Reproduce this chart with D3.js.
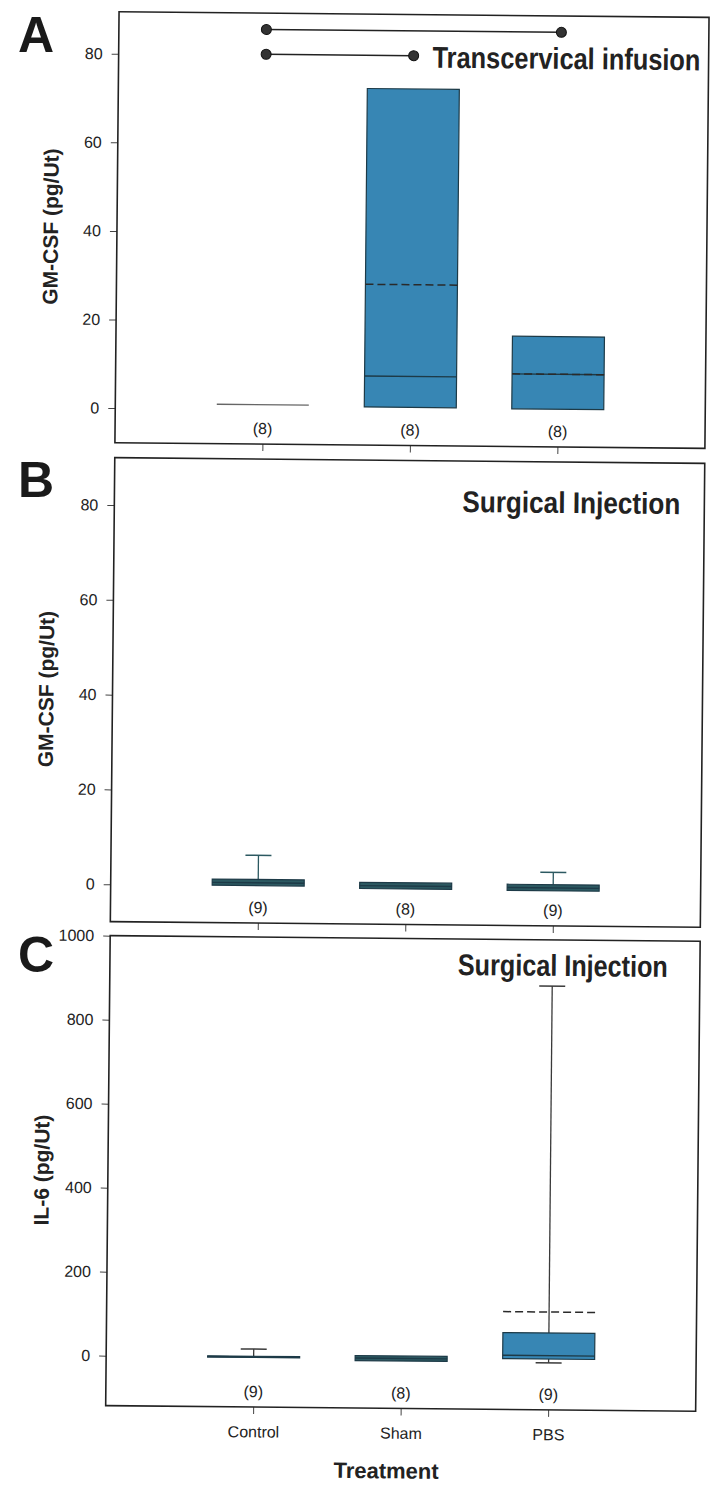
<!DOCTYPE html>
<html>
<head>
<meta charset="utf-8">
<script src="https://cdn.jsdelivr.net/npm/d3@7"></script>
<style>
  body { margin: 0; background: #fff; }
  svg { display: block; font-family: "Liberation Sans", Arial, sans-serif; }
</style>
</head>
<body>
<div id="chart"></div>
<script>
const treatments = ["Control", "Sham", "PBS"];

// A: GM-CSF, transcervical infusion
const aN = [8, 8, 8];
const aQ1 = [1.1, 0.8, 0.7];
const aMedian = [1.1, 7.8, 8.6];
const aQ3 = [1.1, 72.7, 17.1];
const aMean = [null, 28.5, 8.6];
const aWhiskerLow = [null, null, null];
const aWhiskerHigh = [null, null, null];

// brackets drawn over panel A
const bracketFrom = ["Control", "Control"];
const bracketTo = ["PBS", "Sham"];
const bracketAt = [85.8, 80.2];

// B: GM-CSF, surgical injection
const bN = [9, 8, 9];
const bQ1 = [0, -0.4, -0.5];
const bMedian = [0.6, 0.2, 0.1];
const bQ3 = [1.3, 0.9, 0.8];
const bMean = [null, null, null];
const bWhiskerLow = [null, null, null];
const bWhiskerHigh = [6.4, null, 3.4];

// C: IL-6, surgical injection
const cN = [9, 8, 9];
const cQ1 = [-1, -6, 2];
const cMedian = [0.5, 0, 10];
const cQ3 = [2, 6, 64];
const cMean = [null, null, 114];
const cWhiskerLow = [null, null, -7];
const cWhiskerHigh = [19, null, 890];

const gmcsfTicks = [0, 20, 40, 60, 80];
const il6Ticks = [0, 200, 400, 600, 800, 1000];

const width = 712;
const height = 1496;
const left = 112;
const right = 702;
const boxW = 92;
const capW = 26;

const panels = [
    {letter: "A", letterY: 52, title: "Transcervical infusion", titleX: 426, titleY: 67, titleW: 268,
     ylabel: "GM-CSF (pg/Ut)", top: 14, bottom: 445, domain: [-7.8, 89.5], ticks: gmcsfTicks,
     n: aN, q1: aQ1, med: aMedian, q3: aQ3, mean: aMean, lo: aWhiskerLow, hi: aWhiskerHigh, whisker: "#333"},
    {letter: "B", letterY: 497, title: "Surgical Injection", titleX: 460, titleY: 511, titleW: 218,
     ylabel: "GM-CSF (pg/Ut)", top: 460, bottom: 924, domain: [-7.9, 90], ticks: gmcsfTicks,
     n: bN, q1: bQ1, med: bMedian, q3: bQ3, mean: bMean, lo: bWhiskerLow, hi: bWhiskerHigh, whisker: "#2c5961"},
    {letter: "C", letterY: 972, title: "Surgical Injection", titleX: 460, titleY: 974, titleW: 210,
     ylabel: "IL-6 (pg/Ut)", top: 938, bottom: 1408, domain: [-119, 1000], ticks: il6Ticks,
     n: cN, q1: cQ1, med: cMedian, q3: cQ3, mean: cMean, lo: cWhiskerLow, hi: cWhiskerHigh, whisker: "#3a3a3a"}
];

const x = d3.scalePoint()
    .domain(treatments)
    .range([left, right])
    .padding(1);

const svg = d3.select("#chart")
    .append("svg")
    .attr("width", width)
    .attr("height", height);

// the scanned figure sits slightly tilted
const root = svg.append("g")
    .attr("transform", "rotate(0.55,356,748)");

panels.forEach((p, pi) => {
    const y = d3.scaleLinear().domain(p.domain).range([p.bottom, p.top]);
    const g = root.append("g");
    const last = pi === panels.length - 1;

    const boxes = treatments.map((t, i) => ({
        t: t, n: p.n[i], q1: p.q1[i], med: p.med[i], q3: p.q3[i],
        mean: p.mean[i], lo: p.lo[i], hi: p.hi[i]
    }));

    // y axis
    g.append("g")
        .attr("transform", `translate(${left},0)`)
        .call(d3.axisLeft(y).tickValues(p.ticks).tickSize(7).tickPadding(9).tickFormat(d3.format("d")))
        .attr("font-size", 16)
        .attr("font-family", null)
        .call(a => a.select(".domain").remove())
        .call(a => a.selectAll("line").attr("stroke", "#444"))
        .call(a => a.selectAll("text").attr("fill", "#222"));

    // x axis
    g.append("g")
        .attr("transform", `translate(0,${p.bottom})`)
        .call(d3.axisBottom(x).tickSize(7).tickPadding(12).tickFormat(last ? d => d : () => ""))
        .attr("font-size", 16)
        .attr("font-family", null)
        .call(a => a.select(".domain").remove())
        .call(a => a.selectAll("line").attr("stroke", "#444"))
        .call(a => a.selectAll("text").attr("fill", "#222"));

    // whiskers
    boxes.filter(d => d.hi !== null).forEach(d => {
        g.append("line")
            .attr("x1", x(d.t)).attr("x2", x(d.t))
            .attr("y1", y(d.q3)).attr("y2", y(d.hi))
            .attr("stroke", p.whisker).attr("stroke-width", 1.3);
        g.append("line")
            .attr("x1", x(d.t) - capW / 2).attr("x2", x(d.t) + capW / 2)
            .attr("y1", y(d.hi)).attr("y2", y(d.hi))
            .attr("stroke", p.whisker).attr("stroke-width", 1.5);
    });
    boxes.filter(d => d.lo !== null).forEach(d => {
        g.append("line")
            .attr("x1", x(d.t)).attr("x2", x(d.t))
            .attr("y1", y(d.q1)).attr("y2", y(d.lo))
            .attr("stroke", p.whisker).attr("stroke-width", 1.3);
        g.append("line")
            .attr("x1", x(d.t) - capW / 2).attr("x2", x(d.t) + capW / 2)
            .attr("y1", y(d.lo)).attr("y2", y(d.lo))
            .attr("stroke", p.whisker).attr("stroke-width", 1.5);
    });

    // boxes: very flat ones print as a dark bar
    g.selectAll(".box")
        .data(boxes)
        .enter().append("rect")
        .attr("class", "box")
        .attr("x", d => x(d.t) - boxW / 2)
        .attr("y", d => y(d.q3))
        .attr("width", boxW)
        .attr("height", d => y(d.q1) - y(d.q3))
        .attr("fill", d => (y(d.q1) - y(d.q3)) < 8 ? "#2c5961" : "#3786b4")
        .attr("stroke", "#1d3a47")
        .attr("stroke-width", 1.2);

    g.selectAll(".median")
        .data(boxes)
        .enter().append("line")
        .attr("class", "median")
        .attr("x1", d => x(d.t) - boxW / 2)
        .attr("x2", d => x(d.t) + boxW / 2)
        .attr("y1", d => y(d.med))
        .attr("y2", d => y(d.med))
        .attr("stroke", d => d.q3 === d.q1 ? "#666" : "#1d3a47")
        .attr("stroke-width", 1.4);

    g.selectAll(".mean")
        .data(boxes.filter(d => d.mean !== null))
        .enter().append("line")
        .attr("class", "mean")
        .attr("x1", d => x(d.t) - boxW / 2)
        .attr("x2", d => x(d.t) + boxW / 2)
        .attr("y1", d => y(d.mean))
        .attr("y2", d => y(d.mean))
        .attr("stroke", "#2a2a2a")
        .attr("stroke-width", 1.5)
        .attr("stroke-dasharray", "8,4");

    // group sizes
    g.selectAll(".count")
        .data(boxes)
        .enter().append("text")
        .attr("class", "count")
        .attr("x", d => x(d.t))
        .attr("y", p.bottom - 10)
        .attr("text-anchor", "middle")
        .attr("font-size", 16)
        .attr("fill", "#222")
        .text(d => `(${d.n})`);

    // frame
    g.append("rect")
        .attr("x", left)
        .attr("y", p.top)
        .attr("width", right - left)
        .attr("height", p.bottom - p.top)
        .attr("fill", "none")
        .attr("stroke", "#222")
        .attr("stroke-width", 1.6);

    // condensed bold title: squeeze the text to its printed width
    const title = g.append("text")
        .attr("font-weight", "bold")
        .attr("font-size", 30)
        .attr("fill", "#222")
        .text(p.title);
    const natural = title.node().getComputedTextLength();
    title.attr("transform", `translate(${p.titleX},${p.titleY}) scale(${p.titleW / natural},1)`);

    g.append("text")
        .attr("transform", `translate(53,${(p.top + p.bottom) / 2}) rotate(-90)`)
        .attr("text-anchor", "middle")
        .attr("font-weight", "bold")
        .attr("font-size", 21)
        .attr("fill", "#222")
        .text(p.ylabel);

    svg.append("text")
        .attr("x", 18)
        .attr("y", p.letterY)
        .attr("font-weight", "bold")
        .attr("font-size", 50)
        .attr("fill", "#1a1a1a")
        .text(p.letter);

    if (pi === 0) {
        bracketAt.forEach((v, i) => {
            const x1 = x(bracketFrom[i]);
            const x2 = x(bracketTo[i]);
            g.append("line")
                .attr("x1", x1).attr("x2", x2)
                .attr("y1", y(v)).attr("y2", y(v))
                .attr("stroke", "#222").attr("stroke-width", 1.5);
            [x1, x2].forEach(cx => {
                g.append("circle")
                    .attr("cx", cx).attr("cy", y(v)).attr("r", 5)
                    .attr("fill", "#333").attr("stroke", "#111");
            });
        });
    }
});

root.append("text")
    .attr("x", 393)
    .attr("y", 1478)
    .attr("text-anchor", "middle")
    .attr("font-weight", "bold")
    .attr("font-size", 22)
    .attr("fill", "#222")
    .text("Treatment");
</script>
</body>
</html>
